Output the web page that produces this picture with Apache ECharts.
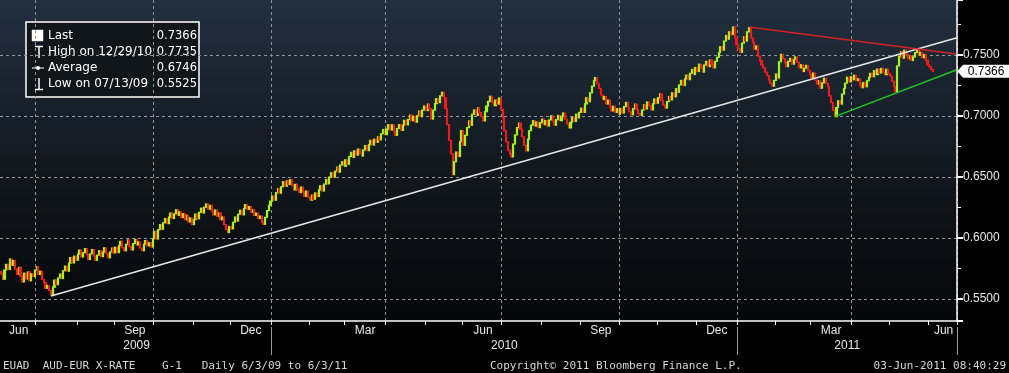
<!DOCTYPE html>
<html><head><meta charset="utf-8">
<script src="https://cdn.jsdelivr.net/npm/echarts@6/dist/echarts.min.js"></script>
<style>html,body{margin:0;padding:0;background:#000;}#c{width:1009px;height:373px;}</style>
</head><body><div id="c"></div>
<script>
// ---- calendar (weekday trading days) ----
const FIRST_DAY = '2009-06-03';
const LAST_AXIS_DAY = '2011-06-22';
const FIRST_OPEN = 0.5725;

// ---- daily closes, AUD-EUR ----
const jun09 = [0.5705,0.5662,0.5738,0.5784,0.5742,0.5828,0.5776,0.5815,0.5748,0.5702,0.5760,0.5688,0.5640,0.5712,0.5664,0.5722,0.5650,0.5706,0.5684,0.5738];
const jul09 = [0.5765,0.5702,0.5728,0.5660,0.5635,0.5588,0.5612,0.5570,0.5535,0.5598,0.5655,0.5618,0.5672,0.5705,0.5668,0.5732,0.5770,0.5728,0.5795,0.5840,0.5796,0.5852,0.5818];
const aug09 = [0.5868,0.5902,0.5845,0.5880,0.5914,0.5862,0.5824,0.5870,0.5905,0.5852,0.5818,0.5860,0.5896,0.5848,0.5885,0.5920,0.5872,0.5838,0.5886,0.5918,0.5878];
const sep09 = [0.5925,0.5880,0.5938,0.5972,0.5920,0.5895,0.5948,0.5985,0.5930,0.5902,0.5955,0.5990,0.5942,0.5968,0.5918,0.5896,0.5950,0.5980,0.5935,0.5962,0.5926,0.5995];
const oct09 = [0.6055,0.5992,0.6068,0.6110,0.6072,0.6125,0.6160,0.6118,0.6172,0.6205,0.6160,0.6198,0.6232,0.6186,0.6215,0.6168,0.6200,0.6150,0.6186,0.6132,0.6165,0.6110];
const nov09 = [0.6150,0.6196,0.6158,0.6210,0.6245,0.6205,0.6252,0.6280,0.6236,0.6268,0.6222,0.6190,0.6230,0.6178,0.6205,0.6150,0.6172,0.6110,0.6070,0.6045,0.6095];
const dec09 = [0.6075,0.6130,0.6172,0.6140,0.6195,0.6228,0.6190,0.6242,0.6275,0.6235,0.6258,0.6210,0.6232,0.6185,0.6205,0.6160,0.6180,0.6130,0.6112,0.6170,0.6225,0.6268,0.6302];
const jan10 = [0.6345,0.6310,0.6372,0.6405,0.6368,0.6420,0.6462,0.6425,0.6470,0.6440,0.6478,0.6432,0.6395,0.6440,0.6402,0.6372,0.6418,0.6378,0.6342,0.6385,0.6335];
const feb10 = [0.6310,0.6352,0.6318,0.6370,0.6340,0.6395,0.6428,0.6385,0.6442,0.6480,0.6445,0.6500,0.6535,0.6498,0.6548,0.6582,0.6540,0.6598,0.6625,0.6590];
const mar10 = [0.6640,0.6605,0.6668,0.6702,0.6660,0.6715,0.6680,0.6730,0.6695,0.6672,0.6722,0.6758,0.6716,0.6765,0.6800,0.6762,0.6810,0.6785,0.6832,0.6805,0.6855,0.6890,0.6848];
const apr10 = [0.6892,0.6930,0.6885,0.6928,0.6875,0.6842,0.6898,0.6930,0.6882,0.6925,0.6965,0.6928,0.6972,0.7008,0.6962,0.6998,0.6950,0.7002,0.7040,0.6995,0.7048,0.7082];
const may10 = [0.7045,0.7098,0.7060,0.6975,0.7048,0.7102,0.7142,0.7110,0.7165,0.7195,0.7150,0.7060,0.6930,0.6800,0.6690,0.6520,0.6625,0.6705,0.6668,0.6790,0.6880];
const jun10 = [0.6760,0.6842,0.6905,0.6960,0.6925,0.7015,0.7050,0.7005,0.7068,0.7028,0.6995,0.6960,0.7035,0.7082,0.7120,0.7162,0.7112,0.7085,0.7130,0.7098,0.7148,0.7055];
const jul10 = [0.6985,0.6880,0.6790,0.6720,0.6690,0.6665,0.6770,0.6845,0.6905,0.6942,0.6890,0.6830,0.6760,0.6715,0.6810,0.6880,0.6925,0.6962,0.6918,0.6950,0.6905,0.6945];
const aug10 = [0.6975,0.6930,0.6962,0.6918,0.6968,0.7002,0.6958,0.6925,0.6970,0.7005,0.6962,0.6998,0.7025,0.6975,0.6935,0.6902,0.6948,0.6990,0.6955,0.7015,0.6985,0.7030];
const sep10 = [0.7065,0.7030,0.7100,0.7150,0.7118,0.7190,0.7245,0.7290,0.7315,0.7265,0.7225,0.7172,0.7135,0.7160,0.7098,0.7130,0.7075,0.7042,0.7080,0.7030,0.7060,0.7015];
const oct10 = [0.7062,0.7025,0.7078,0.7112,0.7068,0.7035,0.7010,0.7060,0.7098,0.7052,0.7020,0.7005,0.7050,0.7092,0.7058,0.7115,0.7085,0.7050,0.7100,0.7140,0.7105];
const nov10 = [0.7150,0.7182,0.7128,0.7090,0.7065,0.7118,0.7160,0.7132,0.7190,0.7158,0.7225,0.7195,0.7255,0.7292,0.7250,0.7305,0.7335,0.7298,0.7350,0.7382,0.7340,0.7398];
const dec10 = [0.7365,0.7425,0.7392,0.7360,0.7418,0.7448,0.7405,0.7460,0.7425,0.7395,0.7448,0.7482,0.7520,0.7568,0.7540,0.7615,0.7660,0.7630,0.7690,0.7668,0.7730,0.7640,0.7585];
const jan11 = [0.7555,0.7522,0.7598,0.7650,0.7615,0.7690,0.7725,0.7640,0.7605,0.7548,0.7575,0.7490,0.7455,0.7420,0.7395,0.7360,0.7332,0.7295,0.7268,0.7245,0.7292];
const feb11 = [0.7345,0.7312,0.7445,0.7505,0.7470,0.7438,0.7405,0.7448,0.7472,0.7425,0.7462,0.7485,0.7440,0.7395,0.7420,0.7365,0.7392,0.7415,0.7372,0.7340];
const mar11 = [0.7310,0.7352,0.7295,0.7262,0.7290,0.7228,0.7272,0.7310,0.7268,0.7240,0.7165,0.7110,0.7045,0.6995,0.7070,0.7125,0.7098,0.7180,0.7225,0.7270,0.7318,0.7280,0.7322];
const apr11 = [0.7298,0.7335,0.7290,0.7305,0.7258,0.7232,0.7275,0.7240,0.7290,0.7318,0.7350,0.7322,0.7372,0.7340,0.7385,0.7352,0.7390,0.7360,0.7340,0.7382,0.7350];
const may11 = [0.7328,0.7285,0.7240,0.7198,0.7410,0.7490,0.7528,0.7475,0.7540,0.7505,0.7470,0.7492,0.7455,0.7485,0.7520,0.7545,0.7498,0.7522,0.7478,0.7505,0.7458,0.7420];
const jun11 = [0.7405,0.7380,0.7366];

// ---- drawn trend lines [date, value] ----
const longSupport = [['2009-07-13', 0.5525], ['2011-06-22', 0.7639]];
const downTrend   = [['2011-01-11', 0.7730], ['2011-06-22', 0.7508]];
const upTrend     = [['2011-03-18', 0.6995], ['2011-06-22', 0.7377]];

// ---- legend box rows ----
const legendLabels = ['Last', 'High on 12/29/10', 'Average', 'Low on 07/13/09'];
const legendValues = ['0.7366', '0.7735', '0.6746', '0.5525'];

const monthNames = ['Jan','Feb','Mar','Apr','May','Jun','Jul','Aug','Sep','Oct','Nov','Dec'];
const labelMonths = [2, 5, 8, 11];     // Mar Jun Sep Dec
const gridMonths = [0, 3, 6, 9];       // quarter starts

// ---------------------------------------------
function tradingDays(a, b) {
  const out = []; let d = new Date(a + 'T00:00:00Z'); const e = new Date(b + 'T00:00:00Z');
  while (d <= e) { const w = d.getUTCDay(); if (w > 0 && w < 6) out.push(d.toISOString().slice(0, 10)); d = new Date(d.getTime() + 864e5); }
  return out;
}
const categories = tradingDays(FIRST_DAY, LAST_AXIS_DAY);
const closes = [].concat(jun09, jul09, aug09, sep09, oct09, nov09, dec09, jan10, feb10, mar10, apr10, may10,
  jun10, jul10, aug10, sep10, oct10, nov10, dec10, jan11, feb11, mar11, apr11, may11, jun11);
const ohlc = closes.map((c, i) => {
  const o = i === 0 ? FIRST_OPEN : closes[i - 1];
  return [o, c, Math.min(o, c), Math.max(o, c)];
});
const lastClose = closes[closes.length - 1];

// group categories by month / year
const monthStart = new Set(), quarterStart = new Set(), yearStart = new Set(), monthLabelIdx = new Set(), yearLabelIdx = new Set();
const monthGroups = [], yearGroups = [];
categories.forEach((d, i) => {
  const ym = d.slice(0, 7), y = d.slice(0, 4);
  if (!monthGroups.length || monthGroups[monthGroups.length - 1].key !== ym) monthGroups.push({ key: ym, start: i, n: 0 });
  monthGroups[monthGroups.length - 1].n++;
  if (!yearGroups.length || yearGroups[yearGroups.length - 1].key !== y) yearGroups.push({ key: y, start: i, n: 0 });
  yearGroups[yearGroups.length - 1].n++;
});
monthGroups.forEach((g, k) => {
  const m = +g.key.slice(5, 7) - 1;
  if (k > 0) { monthStart.add(g.start); if (gridMonths.includes(m)) quarterStart.add(g.start); }
  if (labelMonths.includes(m)) monthLabelIdx.add(g.start + Math.floor(g.n / 2));
});
yearGroups.forEach((g, k) => {
  if (k > 0) yearStart.add(g.start);
  yearLabelIdx.add(g.start + Math.floor(g.n / 2));
});

const chart = echarts.init(document.getElementById('c'), null, { renderer: 'canvas' });
const gridLine = { color: '#8d949a', width: 1, type: [3, 3] };
const txt = '#e8e8e8';

const legendGraphic = [
  { type: 'rect', shape: { x: 26, y: 22, width: 173, height: 75 }, style: { fill: '#11161b', stroke: '#ffffff', lineWidth: 1.5 } },
  { type: 'rect', shape: { x: 32, y: 30, width: 11, height: 11 }, style: { fill: '#ffffff', stroke: '#ffffff', lineWidth: 0.5 } },
  { type: 'line', shape: { x1: 35, y1: 46.5, x2: 43, y2: 46.5 }, style: { stroke: '#fff', lineWidth: 1.5 } },
  { type: 'line', shape: { x1: 39, y1: 46.5, x2: 39, y2: 58 }, style: { stroke: '#fff', lineWidth: 1.5 } },
  { type: 'line', shape: { x1: 32, y1: 68, x2: 44, y2: 68 }, style: { stroke: '#fff', lineWidth: 1 } },
  { type: 'circle', shape: { cx: 38, cy: 68, r: 2 }, style: { fill: '#fff' } },
  { type: 'line', shape: { x1: 39, y1: 78, x2: 39, y2: 89.5 }, style: { stroke: '#fff', lineWidth: 1.5 } },
  { type: 'line', shape: { x1: 35, y1: 89.5, x2: 43, y2: 89.5 }, style: { stroke: '#fff', lineWidth: 1.5 } }
];
legendLabels.forEach((t, k) => {
  legendGraphic.push({ type: 'text', x: 48, y: 36 + k * 16, style: { text: t, fill: '#ffffff', font: '12px "DejaVu Sans"', verticalAlign: 'middle', align: 'left' } });
  legendGraphic.push({ type: 'text', x: 197, y: 36 + k * 16, style: { text: legendValues[k], fill: '#ffffff', font: '11.5px "DejaVu Sans"', verticalAlign: 'middle', align: 'right' } });
});
const footFont = '11px "DejaVu Sans Mono"';
const footer = [
  { type: 'text', x: 3, y: 366, style: { text: 'EUAD  AUD-EUR X-RATE    G-1   Daily 6/3/09 to 6/3/11', fill: '#d8d8d8', font: footFont, verticalAlign: 'middle' } },
  { type: 'text', x: 490, y: 366, style: { text: 'Copyright\u00a9 2011 Bloomberg Finance L.P.', fill: '#d8d8d8', font: footFont, verticalAlign: 'middle' } },
  { type: 'text', x: 1006, y: 366, style: { text: '03-Jun-2011 08:40:29', fill: '#d8d8d8', font: footFont, verticalAlign: 'middle', align: 'right' } }
];

function seg(line, color) {
  return [{ coord: line[0], lineStyle: { color: color, width: 1.5, type: 'solid' } }, { coord: line[1] }];
}

chart.setOption({
  animation: false,
  backgroundColor: '#000000',
  grid: {
    left: 0, right: 52, top: 0, bottom: 52, show: true, borderWidth: 0,
    backgroundColor: { type: 'linear', x: 0, y: 0, x2: 0, y2: 1, colorStops: [
      { offset: 0, color: '#223040' }, { offset: 0.45, color: '#141b22' }, { offset: 1, color: '#050608' } ] }
  },
  xAxis: [{
    type: 'category', data: categories, boundaryGap: true,
    axisLine: { show: true, lineStyle: { color: '#ffffff', width: 1.5 } },
    axisTick: { show: true, interval: (i) => monthStart.has(i), length: 4, lineStyle: { color: '#ffffff', width: 1 } },
    axisLabel: { interval: (i) => monthLabelIdx.has(i), formatter: (v) => monthNames[+v.slice(5, 7) - 1],
      color: txt, fontSize: 12, fontFamily: 'Liberation Sans', margin: 4 },
    splitLine: { show: true, interval: (i) => quarterStart.has(i), lineStyle: gridLine }
  }, {
    type: 'category', data: categories, boundaryGap: true, position: 'bottom', offset: 6,
    axisLine: { show: false },
    axisTick: { show: true, interval: (i) => yearStart.has(i), length: 28, lineStyle: { color: '#9a9a9a', width: 1 } },
    axisLabel: { interval: (i) => yearLabelIdx.has(i), formatter: (v) => v.slice(0, 4),
      color: txt, fontSize: 12, fontFamily: 'Liberation Sans', margin: 13 },
    splitLine: { show: false }
  }],
  yAxis: {
    type: 'value', position: 'right', min: 0.532, max: 0.7951, splitNumber: 5,
    axisLine: { show: true, lineStyle: { color: '#ffffff', width: 1.5 } },
    axisTick: { show: true, length: 6, lineStyle: { color: '#ffffff', width: 2 } },
    minorTick: { show: true, splitNumber: 2, length: 4, lineStyle: { color: '#ffffff', width: 1 } },
    axisLabel: { formatter: (v) => v.toFixed(4), showMinLabel: false, showMaxLabel: false,
      color: txt, fontSize: 12, fontFamily: 'Liberation Sans', margin: 6 },
    splitLine: { show: true, showMinLine: false, showMaxLine: false, lineStyle: gridLine }
  },
  series: [{
    type: 'candlestick', data: ohlc, barWidth: 1.6,
    itemStyle: { color: '#a2f51c', color0: '#f01a1a', borderColor: '#a2f51c', borderColor0: '#f01a1a', borderWidth: 1.2 },
    markLine: { silent: true, symbol: ['none', 'none'], animation: false, label: { show: false },
      data: [seg(longSupport, '#e8e8e8'), seg(downTrend, '#d42222'), seg(upTrend, '#22c422')] },
    markPoint: { silent: true, animation: false, data: [{
      coord: [LAST_AXIS_DAY, lastClose], symbol: 'path://M0,6 L6,0 L52,0 L52,12 L6,12 Z',
      symbolSize: [52, 13], symbolOffset: [27, 0], symbolKeepAspect: false,
      itemStyle: { color: '#ffffff' },
      label: { show: true, formatter: lastClose.toFixed(4), color: '#000000', fontSize: 12, fontFamily: 'Liberation Sans', offset: [3, 0] }
    }] }
  }],
  graphic: legendGraphic.concat(footer)
});
</script></body></html>
